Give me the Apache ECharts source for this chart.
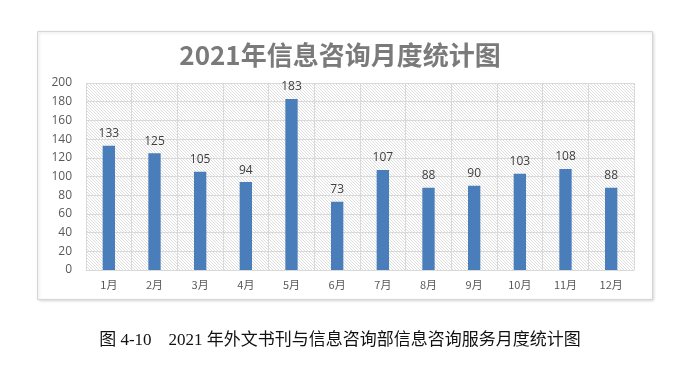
<!DOCTYPE html>
<html><head><meta charset="utf-8">
<script src="https://cdn.jsdelivr.net/npm/echarts@6/dist/echarts.min.js"></script>
<style>html,body{margin:0;padding:0;background:#fff}#c{width:680px;height:365px}</style>
</head><body><div id="c"></div>
<script>
var months = ['1月','2月','3月','4月','5月','6月','7月','8月','9月','10月','11月','12月'];
var counts = [133,125,105,94,183,73,107,88,90,103,108,88];
var chartTitle = '2021年信息咨询月度统计图';
var caption = '图 4-10　2021 年外文书刊与信息咨询部信息咨询服务月度统计图';

var tile = document.createElement('canvas');
tile.width = 3; tile.height = 3;
var g = tile.getContext('2d');
g.fillStyle = '#ffffff'; g.fillRect(0,0,3,3);
g.strokeStyle = '#dedede'; g.lineWidth = 1;
g.beginPath(); g.moveTo(-1,-1); g.lineTo(4,4); g.moveTo(-1,2); g.lineTo(1,4); g.moveTo(2,-1); g.lineTo(4,1); g.stroke();

var chart = echarts.init(document.getElementById('c'), null, {renderer:'canvas'});
chart.setOption({
  animation:false,
  title:{text:chartTitle,left:'center',top:37,textStyle:{fontFamily:'Noto Sans CJK SC',fontSize:26,fontWeight:'bold',color:'#7a7a7a'}},
  graphic:[
    {type:'rect',z:-10,shape:{x:37.5,y:31.5,width:615,height:268},style:{fill:'#fff',stroke:'#d6d6d6',lineWidth:1,shadowBlur:3,shadowColor:'rgba(0,0,0,0.15)',shadowOffsetX:1,shadowOffsetY:1}},
    {type:'text',left:'center',top:332,style:{text:caption,font:'17px "Liberation Serif","Noto Sans CJK SC"',fill:'#111'}}
  ],
  grid:{left:86,right:46,top:83,bottom:95,show:true,borderWidth:0,backgroundColor:{image:tile,repeat:'repeat'}},
  xAxis:{type:'category',data:months,
    axisLine:{show:true,lineStyle:{color:'#d9d9d9'}},axisTick:{show:false},
    splitLine:{show:true,lineStyle:{color:'#d9d9d9',width:1}},
    axisLabel:{color:'#595959',fontSize:11,margin:9,fontFamily:'Noto Sans CJK SC'}},
  yAxis:{type:'value',min:0,max:200,interval:20,
    axisLine:{show:false},axisTick:{show:false},
    splitLine:{lineStyle:{color:'#d9d9d9',width:1}},
    axisLabel:{color:'#595959',fontSize:12,margin:14,fontFamily:'Open Sans'}},
  series:[{type:'bar',data:counts,barWidth:'27%',itemStyle:{color:'#4a7ebb'},
    label:{show:true,position:'top',distance:6,color:'#404040',fontSize:12,fontFamily:'Open Sans'}}]
});
</script></body></html>
